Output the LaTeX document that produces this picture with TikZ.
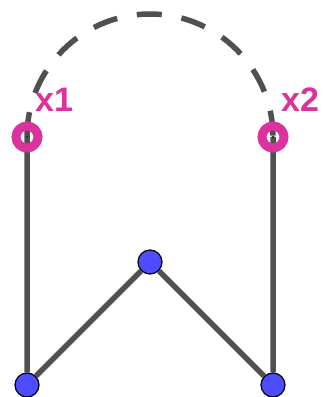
\documentclass[tikz,border=0pt]{standalone}
\usepackage{fontspec}
\setmainfont{Liberation Sans}
\usepackage{tikz}
\usetikzlibrary{positioning,backgrounds}
\definecolor{ptblue}{RGB}{77,77,255}
\definecolor{ringpink}{RGB}{219,51,158}
\definecolor{linegray}{RGB}{80,80,80}
\tikzset{main node/.style={circle,draw=black,fill=ptblue,line width=1.2pt,minimum
size=24pt,inner sep=0pt},
end node/.style={circle,draw=ringpink,line width=9pt,minimum size=22pt,inner sep=0pt},
tag/.style={text=ringpink,inner sep=0pt,font=\bfseries\fontsize{34}{34}\selectfont},
seg/.style={draw=linegray,line width=5.5pt}}
\begin{document}
\begin{tikzpicture}[x=1pt,y=1pt,on grid]
\useasboundingbox (0,0) rectangle (324,397);
\node[main node] (a) at (27,12) {};
\node[main node] (b) [above right=123pt and 123pt of a] {};
\node[main node] (c) [below right=123pt and 123pt of b] {};
\node[end node] (x1) [above=248pt of a] {};
\node[end node] (x2) [above=248pt of c] {};
\node[tag] (t1) [above right=25pt and 8pt of x1,anchor=base west] {x1};
\node[tag] (t2) [above right=25pt and 8pt of x2,anchor=base west] {x2};

\begin{pgfonlayer}{background}
\path[seg]
(x1.center)--(a)--(b)--(c)--(x2.center);
\path[seg,dash pattern=on 25pt off 20pt]
(x1.center) arc[start angle=180,end angle=0,radius=123pt];
\end{pgfonlayer}
\fill[black!80] (x1) circle (1.5pt) (x2) circle (1.5pt);
\end{tikzpicture}
\end{document}
